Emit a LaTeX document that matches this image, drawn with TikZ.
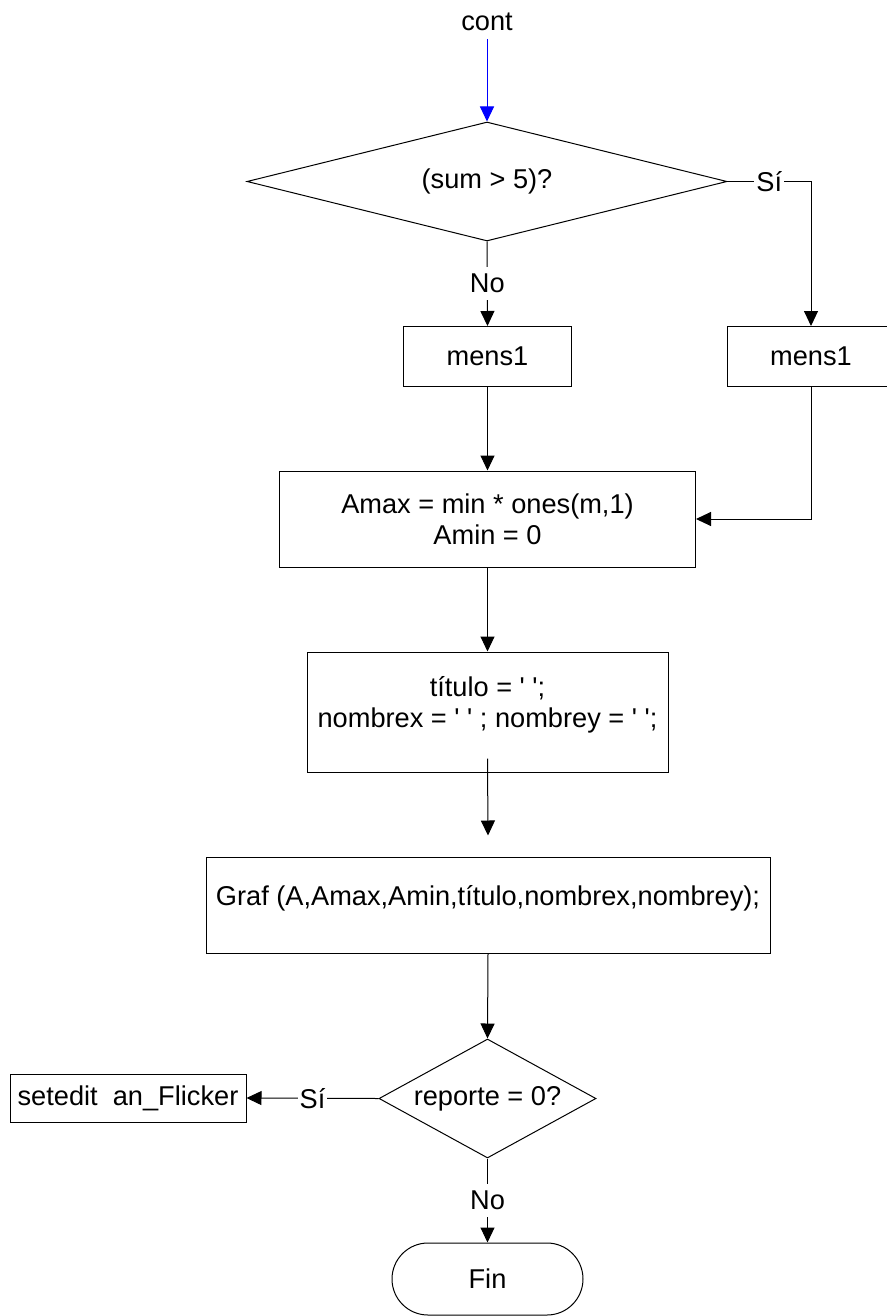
\documentclass[tikz,border=0pt]{standalone}
\usepackage{fontspec}
\setmainfont{Liberation Sans}
\usetikzlibrary{shapes.geometric,arrows.meta}
\definecolor{FlowBlue}{HTML}{0000FF}
\newcommand{\qs}{\textquotesingle}

\begin{document}
\begin{tikzpicture}[x=0.5pt,y=-0.5pt,line width=0.5pt,
    every node/.style={font=\fontsize{13.6}{15.5}\selectfont,inner sep=0pt},
    caja/.style={draw,rectangle,align=center},
    rombo/.style={draw,diamond,inner sep=0pt},
    etiq/.style={fill=white,inner xsep=1pt,inner ysep=3.6pt},
    flecha/.style={-{Triangle[length=7.5pt,width=7pt]}}]
        \useasboundingbox (0,0) rectangle (887,1316);
        \node[inner ysep=4pt] (cont) at (487,22) {cont};
        \node[rombo,aspect=4,minimum width=240pt,minimum height=59.5pt] (cond1) at (487,181.5) {(sum > 5)?};
        \node[caja,minimum width=84pt,minimum height=30pt] (mens1a) at (487.5,356.5) {mens1};
        \node[caja,minimum width=84pt,minimum height=30pt] (mens1b) at (811,356.5) {mens1};
        \node[caja,minimum width=208pt,minimum height=48pt] (amax) at (487.5,519) {Amax = min * ones(m,1)\\Amin = 0};
        \node[caja,minimum width=180.5pt,minimum height=60pt,text depth=9.8pt] (titulo) at (487.5,712) {título = \qs\ \qs;\\nombrex = \qs\ \qs\ ; nombrey = \qs\ \qs;};
        \node[caja,minimum width=282pt,minimum height=48pt,text depth=9.8pt] (graf) at (488,905) {Graf (A,Amax,Amin,título,nombrex,nombrey);};
        \node[rombo,aspect=1.8,minimum width=108.5pt,minimum height=59.5pt] (cond2) at (487.5,1098.5) {reporte = 0?};
        \node[caja,minimum width=118pt,minimum height=24pt] (setedit) at (128,1098) {setedit\ \ an\_Flicker};
        \node[draw,rounded corners=18pt,minimum width=95.5pt,minimum height=36pt] (fin) at (487.5,1279) {Fin};
        \draw[flecha,FlowBlue] (cont.south) -- (cond1.north);
        \draw[flecha] (cond1.south) -- node[etiq] {No} (mens1a.north);
        \draw[flecha] (cond1.east) -- node[etiq] {Sí} (cond1.east -| mens1b.north) -- (mens1b.north);
        \draw[flecha] (mens1a.south) -- (amax.north);
        \draw[flecha] (mens1b.south) |- (amax.east);
        \draw[flecha] (amax.south) -- (titulo.north);
        \draw[flecha] ([yshift=7pt]titulo.south) -- ([yshift=10.5pt]graf.north);
        \draw[flecha] (graf.south) -- (cond2.north);
        \draw[flecha] (cond2.west) -- node[etiq] {Sí} (setedit.east);
        \draw[flecha] (cond2.south) -- node[etiq] {No} (fin.north);
      \end{tikzpicture}
\end{document}
